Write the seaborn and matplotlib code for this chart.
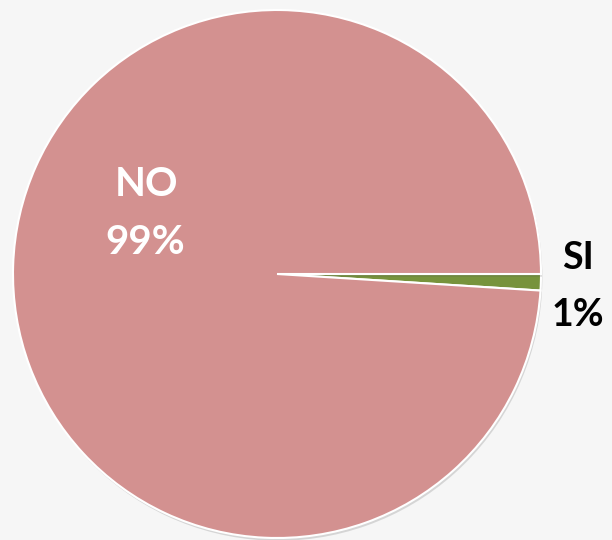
import matplotlib
matplotlib.use("Agg")
import matplotlib.pyplot as plt
import matplotlib.patheffects as pe
import seaborn as sns

categories = ["SI", "NO"]
shares = [1, 99]
colors = ["#77933C", "#D39190"]

sns.set_theme(style="white")
plt.rcParams["font.family"] = ["Lato", "DejaVu Sans"]

fig = plt.figure(figsize=(6.12, 5.40), dpi=100, facecolor="#f6f6f6")
ax = fig.add_axes([0, 0, 1, 1])
ax.set_facecolor("#f6f6f6")

R = 264.0
ax.pie(
    shares,
    colors=colors,
    startangle=0,
    counterclock=False,
    radius=1.0,
    wedgeprops=dict(edgecolor="white", linewidth=1.5,
                    path_effects=[pe.SimplePatchShadow(offset=(1, -2), alpha=0.2, shadow_rgbFace="#555555"),
                                  pe.Normal()]),
)
ax.set_xlim(-277 / R, (612 - 277) / R)
ax.set_ylim(-266 / R, (540 - 266) / R)
ax.set_aspect("equal")
ax.axis("off")

def px(x, y):
    return ((x - 277) / R, (274 - y) / R)

def label(x, y, s, color, size):
    tx, ty = px(x, y)
    ax.text(tx, ty, s, color=color, fontsize=size, fontweight="bold",
            ha="center", va="center")

label(146, 184, categories[1], "white", 29)
label(145, 242, f"{shares[1]}%", "white", 29)
label(578, 258, categories[0], "black", 27)
label(578, 315, f"{shares[0]}%", "black", 27)

fig.savefig("out.png", dpi=100, facecolor=fig.get_facecolor())
